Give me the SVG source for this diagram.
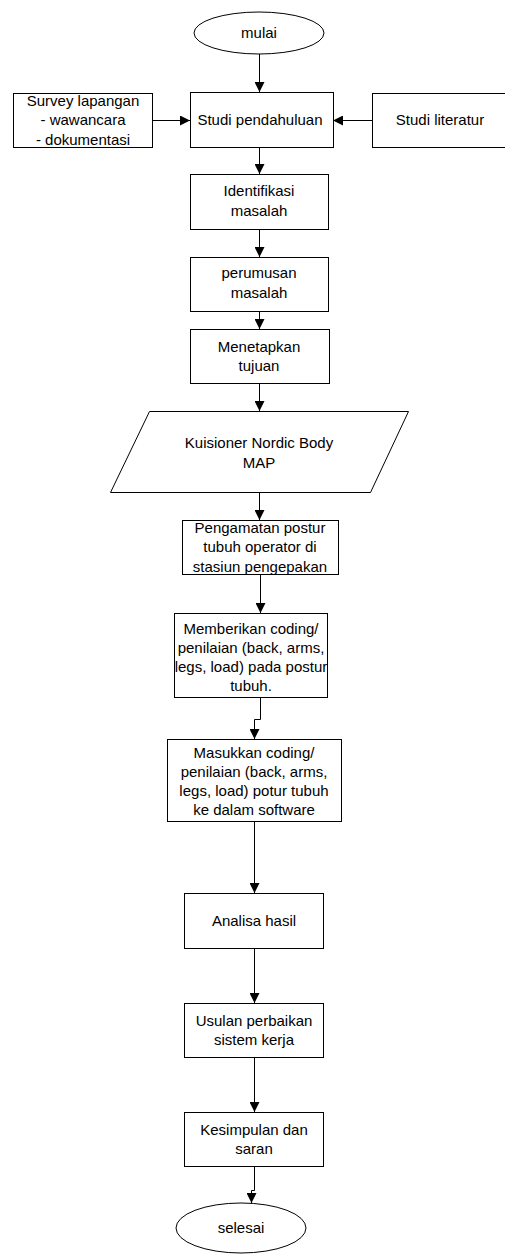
<svg xmlns="http://www.w3.org/2000/svg" width="505" height="1254" viewBox="0 0 505 1254">
<style>
  .n { fill: #fff; stroke: #000; stroke-width: 1; }
  .t { font-family: "Liberation Sans", Arial, sans-serif; font-size: 15px; fill: #000; text-anchor: middle; }
  .c { fill: none; stroke: #000; stroke-width: 1; marker-end: url(#ah); }
</style>
<defs>
  <marker id="ah" viewBox="0 0 10 10" refX="10" refY="5" markerWidth="10" markerHeight="10" markerUnits="userSpaceOnUse" orient="auto">
    <path d="M0,0 L10,5 L0,10 z" fill="#000"/>
  </marker>
</defs>
<rect x="0" y="0" width="505" height="1254" fill="#fff"/>

<g id="connectors">
  <path class="c" d="M259.5,54 V92"/>
  <path class="c" d="M152,120.5 H190"/>
  <path class="c" d="M372,120.5 H333"/>
  <path class="c" d="M259.5,147 V174"/>
  <path class="c" d="M259.5,229 V257"/>
  <path class="c" d="M259.5,311 V329"/>
  <path class="c" d="M259.5,383 V411"/>
  <path class="c" d="M259.5,492 V520"/>
  <path class="c" d="M260.5,574 V613"/>
  <path class="c" d="M260.5,697 V719.5 H254.5 V739"/>
  <path class="c" d="M254.5,821 V893"/>
  <path class="c" d="M254.5,948 V1003"/>
  <path class="c" d="M254.5,1057 V1112"/>
  <path class="c" d="M254.5,1166 V1190.5 H251.5 V1203"/>
</g>

<g id="mulai">
  <ellipse class="n" cx="259" cy="33" rx="65" ry="21"/>
  <text class="t" x="259" y="38">mulai</text>
</g>
<g id="survey">
  <rect class="n" x="13.5" y="93.5" width="139" height="54"/>
  <text class="t" x="83" y="106">Survey lapangan</text>
  <text class="t" x="83" y="125">- wawancara</text>
  <text class="t" x="83" y="145">- dokumentasi</text>
</g>
<g id="studi-pendahuluan">
  <rect class="n" x="190.5" y="92.5" width="143" height="55"/>
  <text class="t" x="260" y="125">Studi pendahuluan</text>
</g>
<g id="studi-literatur">
  <rect class="n" x="372.5" y="93.5" width="136" height="54"/>
  <text class="t" x="440" y="125">Studi literatur</text>
</g>
<g id="identifikasi">
  <rect class="n" x="190.5" y="174.5" width="138" height="55"/>
  <text class="t" x="259" y="196">Identifikasi</text>
  <text class="t" x="259" y="216">masalah</text>
</g>
<g id="perumusan">
  <rect class="n" x="190.5" y="257.5" width="138" height="54"/>
  <text class="t" x="259" y="278">perumusan</text>
  <text class="t" x="259" y="298">masalah</text>
</g>
<g id="menetapkan">
  <rect class="n" x="190.5" y="329.5" width="139" height="54"/>
  <text class="t" x="259" y="352">Menetapkan</text>
  <text class="t" x="259" y="371">tujuan</text>
</g>
<g id="kuisioner">
  <polygon class="n" points="149.5,411.5 408.5,411.5 370.5,492.5 110.5,492.5"/>
  <text class="t" x="259" y="448">Kuisioner Nordic Body</text>
  <text class="t" x="259" y="468">MAP</text>
</g>
<g id="pengamatan">
  <rect class="n" x="182.5" y="520.5" width="156" height="54"/>
  <text class="t" x="260" y="533">Pengamatan postur</text>
  <text class="t" x="260" y="552">tubuh operator di</text>
  <text class="t" x="260" y="572">stasiun pengepakan</text>
</g>
<g id="memberikan">
  <rect class="n" x="174.5" y="613.5" width="153" height="84"/>
  <text class="t" x="251" y="634">Memberikan coding/</text>
  <text class="t" x="251" y="653">penilaian (back, arms,</text>
  <text class="t" x="251" y="672">legs, load) pada postur</text>
  <text class="t" x="251" y="691">tubuh.</text>
</g>
<g id="masukkan">
  <rect class="n" x="167.5" y="739.5" width="174" height="82"/>
  <text class="t" x="254" y="758">Masukkan coding/</text>
  <text class="t" x="254" y="777">penilaian (back, arms,</text>
  <text class="t" x="254" y="796">legs, load) potur tubuh</text>
  <text class="t" x="254" y="815">ke dalam software</text>
</g>
<g id="analisa">
  <rect class="n" x="184.5" y="893.5" width="139" height="55"/>
  <text class="t" x="254" y="926">Analisa hasil</text>
</g>
<g id="usulan">
  <rect class="n" x="184.5" y="1003.5" width="139" height="54"/>
  <text class="t" x="254" y="1026">Usulan perbaikan</text>
  <text class="t" x="254" y="1045">sistem kerja</text>
</g>
<g id="kesimpulan">
  <rect class="n" x="184.5" y="1112.5" width="139" height="54"/>
  <text class="t" x="254" y="1135">Kesimpulan dan</text>
  <text class="t" x="254" y="1154">saran</text>
</g>
<g id="selesai">
  <ellipse class="n" cx="241" cy="1228" rx="65" ry="25"/>
  <text class="t" x="241" y="1233">selesai</text>
</g>
</svg>
